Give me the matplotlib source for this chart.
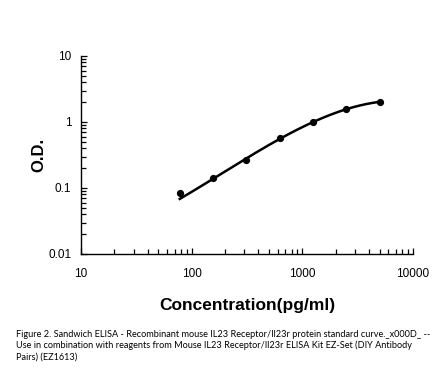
import numpy as np
import matplotlib
matplotlib.use("Agg")
import matplotlib.pyplot as plt
from matplotlib.ticker import LogLocator, FixedLocator, FixedFormatter, NullFormatter

# Data
conc = [78, 156, 312, 625, 1250, 2500, 5000]
od = [0.085, 0.140, 0.266, 0.566, 1.01, 1.57, 2.01]
# fitted-curve values read at the standard concentrations
curve_od = [0.068, 0.140, 0.275, 0.560, 1.00, 1.56, 2.02]

xticks = [10, 100, 1000, 10000]
xtick_labels = ["10", "100", "1000", "10000"]
yticks = [0.01, 0.1, 1, 10]
ytick_labels = ["0.01", "0.1", "1", "10"]

caption = ("Figure 2. Sandwich ELISA - Recombinant mouse IL23 Receptor/Il23r protein standard curve._x000D_ --\n"
           "Use in combination with reagents from Mouse IL23 Receptor/Il23r ELISA Kit EZ-Set (DIY Antibody\n"
           "Pairs) (EZ1613)")

plt.rcParams['font.family'] = ['Liberation Sans', 'DejaVu Sans']

fig = plt.figure(figsize=(4.46, 3.76), dpi=100)
ax = fig.add_axes([81/446, 1-254/376, (413-81)/446, (254-56)/376])

# smooth fit curve in log-log space
lx = np.log10(conc)
ly = np.log10(curve_od)
coef = np.polyfit(lx, ly, 3)
xs = np.linspace(lx[0], lx[-1], 200)
ax.plot(10**xs, 10**np.polyval(coef, xs), color='black', lw=1.8, zorder=2)
ax.plot(conc, od, 'o', color='black', ms=4.2, zorder=3)

ax.set_xscale('log')
ax.set_yscale('log')
ax.set_xlim(10, 10000)
ax.set_ylim(0.01, 10)

ax.xaxis.set_major_locator(FixedLocator(xticks))
ax.xaxis.set_major_formatter(FixedFormatter(xtick_labels))
ax.yaxis.set_major_locator(FixedLocator(yticks))
ax.yaxis.set_major_formatter(FixedFormatter(ytick_labels))
ax.xaxis.set_minor_locator(LogLocator(base=10, subs=np.arange(2, 10)))
ax.yaxis.set_minor_locator(LogLocator(base=10, subs=np.arange(2, 10)))
ax.xaxis.set_minor_formatter(NullFormatter())
ax.yaxis.set_minor_formatter(NullFormatter())

ax.tick_params(which='major', direction='in', length=4, width=0.9, labelsize=8.5, colors='black')
ax.tick_params(which='minor', direction='in', length=3.5, width=0.9)
ax.tick_params(axis='x', which='major', pad=10)
ax.tick_params(axis='y', which='major', pad=7)

for s in ['top', 'right']:
    ax.spines[s].set_visible(False)
for s in ['left', 'bottom']:
    ax.spines[s].set_linewidth(1.0)

ax.set_xlabel("Concentration(pg/ml)", fontsize=12.5, fontweight='bold', labelpad=13)
ax.set_ylabel("O.D.", fontsize=12, fontweight='bold', labelpad=1)

fig.text(16/446, 1-330/376, caption, fontsize=6.6, family=['Lato', 'DejaVu Sans'],
         va='top', ha='left', linespacing=1.25)

fig.savefig("out.png", dpi=100)
